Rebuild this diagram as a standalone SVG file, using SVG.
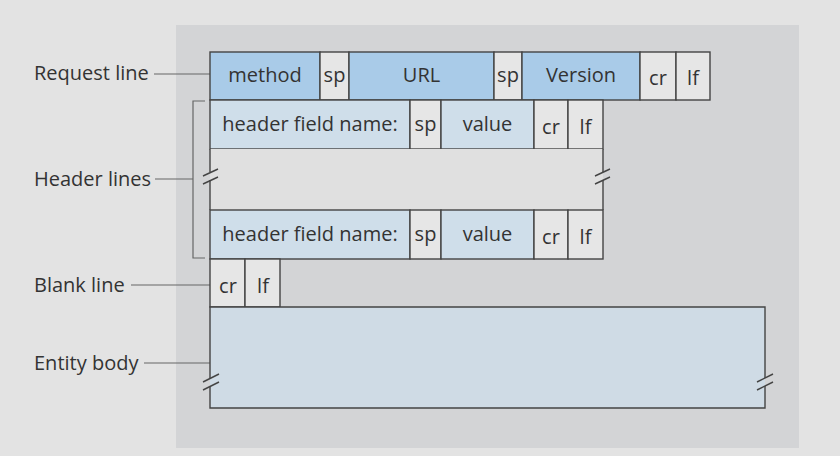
<svg xmlns="http://www.w3.org/2000/svg" width="840" height="456" viewBox="0 0 840 456">
<style>
.c{stroke:#444;stroke-width:1.4}
.b1{fill:#a9cbe8}
.b2{fill:#cfdeea}
.g{fill:#e6e6e6}
.t{font-family:"Open Sans","Noto Sans",sans-serif;font-size:20px;fill:#333;text-anchor:middle}
.l{font-family:"Open Sans","Noto Sans",sans-serif;font-size:20px;fill:#333}
.ln{stroke:#666;stroke-width:1.2;fill:none}
.sl{stroke:#444;stroke-width:1.4;fill:none}
</style>
<rect width="840" height="456" fill="#e3e3e3"/>
<rect x="176" y="25" width="623" height="423" fill="#d3d4d6"/>
<g id="labels">
<text class="l" x="34" y="80">Request line</text>
<text class="l" x="34" y="186">Header lines</text>
<text class="l" x="34" y="292">Blank line</text>
<text class="l" x="34" y="370">Entity body</text>
</g>
<g id="connectors">
<line class="ln" x1="154" y1="74" x2="210" y2="74"/>
<line class="ln" x1="155" y1="179" x2="193" y2="179"/>
<path class="ln" d="M205,101 H193 V258 H205"/>
<line class="ln" x1="131" y1="285" x2="210" y2="285"/>
<line class="ln" x1="144" y1="363" x2="210" y2="363"/>
</g>
<g id="request-line">
<rect class="c b1" x="210" y="52" width="110" height="48"/>
<text class="t" x="265" y="82">method</text>
<rect class="c g" x="320" y="52" width="29" height="48"/>
<text class="t" x="334.5" y="82">sp</text>
<rect class="c b1" x="349" y="52" width="145" height="48"/>
<text class="t" x="421.5" y="82">URL</text>
<rect class="c g" x="494" y="52" width="28" height="48"/>
<text class="t" x="508" y="82">sp</text>
<rect class="c b1" x="522" y="52" width="118" height="48"/>
<text class="t" x="581" y="82">Version</text>
<rect class="c g" x="640" y="52" width="36" height="48"/>
<text class="t" x="658" y="85">cr</text>
<rect class="c g" x="676" y="52" width="34" height="48"/>
<text class="t" x="693" y="85">lf</text>
</g>
<g id="header-line-1">
<rect class="c b2" x="210" y="100" width="200" height="49"/>
<text class="t" x="310" y="131">header field name:</text>
<rect class="c g" x="410" y="100" width="31" height="49"/>
<text class="t" x="425.5" y="131">sp</text>
<rect class="c b2" x="441" y="100" width="93" height="49"/>
<text class="t" x="487.5" y="131">value</text>
<rect class="c g" x="534" y="100" width="34" height="49"/>
<text class="t" x="551" y="134">cr</text>
<rect class="c g" x="568" y="100" width="35" height="49"/>
<text class="t" x="585.5" y="134">lf</text>
</g>
<g id="header-gap">
<rect x="210" y="149" width="393" height="61" fill="#e0e0e0"/>
<line class="c" x1="210" y1="149" x2="210" y2="172"/>
<line class="c" x1="210" y1="180" x2="210" y2="210"/>
<line class="c" x1="603" y1="149" x2="603" y2="172"/>
<line class="c" x1="603" y1="180" x2="603" y2="210"/>
<line class="sl" x1="203" y1="176" x2="218" y2="169"/>
<line class="sl" x1="203" y1="184" x2="218" y2="177"/>
<line class="sl" x1="595" y1="176" x2="610" y2="169"/>
<line class="sl" x1="595" y1="184" x2="610" y2="177"/>
</g>
<g id="header-line-2">
<rect class="c b2" x="210" y="210" width="200" height="49"/>
<text class="t" x="310" y="241">header field name:</text>
<rect class="c g" x="410" y="210" width="31" height="49"/>
<text class="t" x="425.5" y="241">sp</text>
<rect class="c b2" x="441" y="210" width="93" height="49"/>
<text class="t" x="487.5" y="241">value</text>
<rect class="c g" x="534" y="210" width="34" height="49"/>
<text class="t" x="551" y="244">cr</text>
<rect class="c g" x="568" y="210" width="35" height="49"/>
<text class="t" x="585.5" y="244">lf</text>
</g>
<g id="blank-line">
<rect class="c g" x="210" y="259" width="35" height="48"/>
<text class="t" x="228" y="293">cr</text>
<rect class="c g" x="245" y="259" width="35" height="48"/>
<text class="t" x="263" y="293">lf</text>
</g>
<g id="entity-body">
<rect x="210" y="307" width="555" height="101" fill="#cfdbe5"/>
<path class="c" fill="none" d="M210,378 V307 H765 V378"/>
<path class="c" fill="none" d="M210,386 V408 H765 V386"/>
<line class="sl" x1="203" y1="382" x2="219" y2="374"/>
<line class="sl" x1="203" y1="390" x2="219" y2="382"/>
<line class="sl" x1="757" y1="382" x2="773" y2="374"/>
<line class="sl" x1="757" y1="390" x2="773" y2="382"/>
</g>
</svg>
